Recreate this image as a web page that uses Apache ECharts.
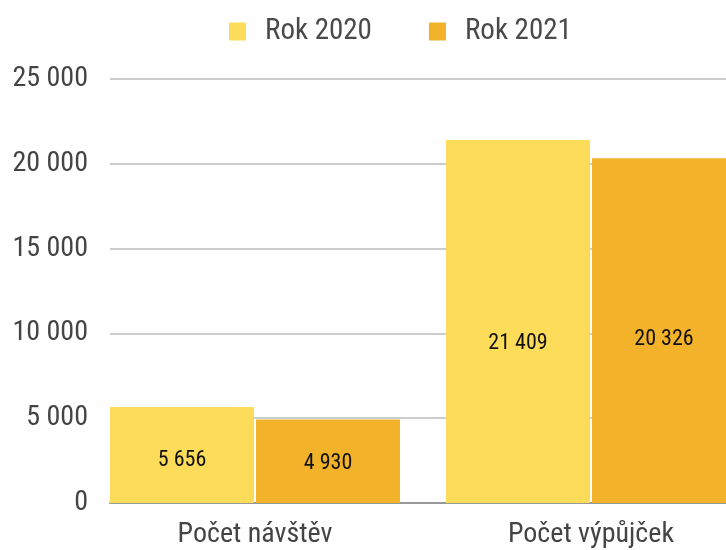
<!DOCTYPE html>
<html><head><meta charset="utf-8">
<script src="https://cdn.jsdelivr.net/npm/echarts@6/dist/echarts.min.js"></script>
<style>html,body{margin:0;padding:0;background:#fff}#c{width:726px;height:550px}</style>
</head><body><div id="c"></div>
<script>
const categories = ['Počet návštěv', 'Počet výpůjček'];
const seriesNames = ['Rok 2020', 'Rok 2021'];
const rok2020 = [5656, 21409];
const rok2021 = [4930, 20326];
const yMin = 0, yMax = 25000, yStep = 5000;

const FONT = '"Roboto Condensed","Liberation Sans Narrow","DejaVu Sans Condensed",Roboto,sans-serif';
const fmt = v => String(v).replace(/\B(?=(\d{3})+(?!\d))/g, ' ');

const chart = echarts.init(document.getElementById('c'));
const mkLabel = pos => ({ show: true, position: ['50%', pos], align: 'center', verticalAlign: 'middle',
  fontSize: 22, color: '#111', fontFamily: FONT, formatter: p => fmt(p.value) });
chart.setOption({
  animation: false,
  textStyle: { fontFamily: FONT },
  color: ['#FDDC5A', '#F2B32A'],
  legend: {
    top: 12, left: 224, itemWidth: 17, itemHeight: 18, itemGap: 57,
    icon: 'rect',
    textStyle: { fontSize: 29, color: '#4a4a4a', fontFamily: FONT, padding: [0, 0, 0, 14] },
    data: seriesNames
  },
  grid: [
    { left: 110, right: 0, top: 79, bottom: 47 },
    { left: 255, right: 135, top: 79, bottom: 47 }
  ],
  xAxis: [
    { type: 'category', gridIndex: 0, data: categories,
      axisLine: { lineStyle: { color: '#999', width: 2 } }, axisTick: { show: false }, axisLabel: { show: false } },
    { type: 'category', gridIndex: 1, data: categories, boundaryGap: false,
      axisLine: { show: false }, axisTick: { show: false },
      axisLabel: { fontSize: 28, color: '#444', fontFamily: FONT, margin: 18 } }
  ],
  yAxis: [
    { type: 'value', gridIndex: 0, min: yMin, max: yMax, interval: yStep,
      axisLine: { show: false }, axisTick: { show: false },
      splitLine: { lineStyle: { color: '#cccccc', width: 2 } },
      axisLabel: { fontSize: 28, color: '#444', fontFamily: FONT, margin: 22, formatter: fmt } },
    { type: 'value', gridIndex: 1, min: yMin, max: yMax, interval: yStep, show: false,
      splitLine: { show: false } }
  ],
  series: [
    { name: seriesNames[0], type: 'bar', xAxisIndex: 1, yAxisIndex: 1, data: rok2020, clip: false,
      barWidth: 144, barGap: '1.4%', label: mkLabel('56%') },
    { name: seriesNames[1], type: 'bar', xAxisIndex: 1, yAxisIndex: 1, data: rok2021, clip: false,
      barWidth: 144, barGap: '1.4%', label: mkLabel('52.5%') }
  ]
});
</script></body></html>
